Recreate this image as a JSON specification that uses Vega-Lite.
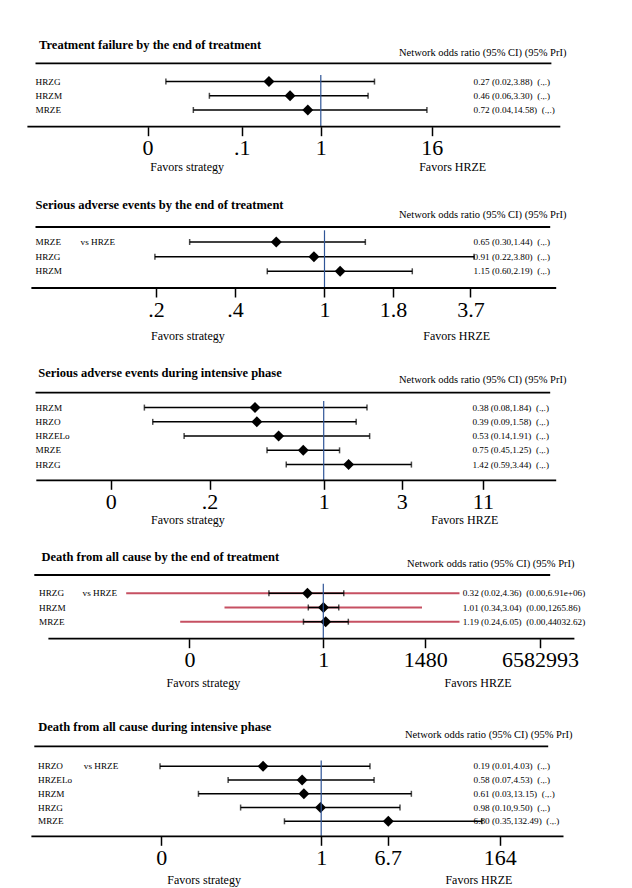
{
"$schema": "https://vega.github.io/schema/vega-lite/v6.json",
"padding": 0,
"bounds": "flush",
"spacing": 60,
"config": {
  "view": {"stroke": null},
  "font": "Liberation Serif",
  "text": {"color": "black"},
  "axis": {"domain": false, "grid": false, "tickColor": "black", "tickWidth": 1.5, "tickSize": 9, "labelFontSize": 22, "labelColor": "black", "labelPadding": 12, "labelBaseline": "middle", "labelFont": "Liberation Serif", "labelOverlap": false, "labelFlush": false}
},
"vconcat": [
{
  "width": 632, "height": 126.7,
  "data": {"values": [
    {"t": "HRZG", "or": 0.27, "lo": 0.02, "hi": 3.88, "row": 1, "txt": "0.27 (0.02,3.88)\u00a0\u00a0(.,.)"},
    {"t": "HRZM", "or": 0.46, "lo": 0.06, "hi": 3.30, "row": 2, "txt": "0.46 (0.06,3.30)\u00a0\u00a0(.,.)"},
    {"t": "MRZE", "or": 0.72, "lo": 0.04, "hi": 14.58, "row": 3, "txt": "0.72 (0.04,14.58)\u00a0\u00a0(.,.)"}
  ]},
  "encoding": {"y": {"field": "row", "type": "quantitative", "scale": {"domain": [-4.746, 4.176], "reverse": true, "nice": false, "zero": false}, "axis": null}},
  "layer": [
    {"mark": {"type": "rule", "color": "black", "strokeWidth": 1.5},
     "encoding": {"x": {"field": "lo", "type": "quantitative", "scale": {"type": "log", "domain": [3.032e-4, 2587.8], "nice": false}, "axis": {"values": [0.012576, 0.136, 1, 16.45], "labelExpr": "datum.value < 0.05 ? '0' : datum.value < 0.5 ? '.1' : datum.value < 2 ? '1' : '16'", "title": null}}, "x2": {"field": "hi"}}},
    {"mark": {"type": "tick", "orient": "vertical", "color": "black", "size": 6, "thickness": 1.5}, "encoding": {"x": {"field": "lo", "type": "quantitative"}}},
    {"mark": {"type": "tick", "orient": "vertical", "color": "black", "size": 6, "thickness": 1.5}, "encoding": {"x": {"field": "hi", "type": "quantitative"}}},
    {"mark": {"type": "point", "shape": "diamond", "filled": true, "color": "black", "size": 120, "opacity": 1}, "encoding": {"x": {"field": "or", "type": "quantitative"}}},
    {"mark": {"type": "text", "align": "left", "baseline": "middle", "fontSize": 9.2}, "encoding": {"x": {"datum": 7.433e-4}, "text": {"field": "t"}}},
    {"mark": {"type": "text", "align": "left", "baseline": "middle", "fontSize": 9.2}, "encoding": {"x": {"datum": 47.40}, "text": {"field": "txt"}}},
    {"transform": [{"filter": "datum.row == 1"}], "mark": {"type": "rule", "color": "#2f5597", "strokeWidth": 1.2}, "encoding": {"x": {"datum": 1}, "y": {"datum": 0.535}, "y2": {"datum": 4.176}}},
    {"transform": [{"filter": "datum.row == 1"}], "mark": {"type": "rule", "color": "black", "strokeWidth": 1.8}, "encoding": {"x": {"datum": 7.433e-4}, "x2": {"datum": 338.0}, "y": {"datum": -0.289}}},
    {"transform": [{"filter": "datum.row == 1"}], "mark": {"type": "rule", "color": "black", "strokeWidth": 1.8}, "encoding": {"x": {"datum": 6.057e-4}, "x2": {"datum": 423.3}, "y": {"datum": 4.176}}},
    {"transform": [{"filter": "datum.row == 1"}], "mark": {"type": "text", "align": "left", "baseline": "middle", "fontSize": 12.5, "fontWeight": "bold", "text": "Treatment failure by the end of treatment"}, "encoding": {"x": {"datum": 8.139e-4}, "y": {"datum": -1.577}}},
    {"transform": [{"filter": "datum.row == 1"}], "mark": {"type": "text", "align": "left", "baseline": "middle", "fontSize": 10.5, "text": "Network odds ratio (95% CI) (95% PrI)"}, "encoding": {"x": {"datum": 7.204}, "y": {"datum": -1.035}}},
    {"transform": [{"filter": "datum.row == 1"}], "mark": {"type": "text", "align": "left", "baseline": "middle", "fontSize": 12, "text": "Favors strategy"}, "encoding": {"x": {"datum": 0.013493}, "y": {"datum": 7.035}}},
    {"transform": [{"filter": "datum.row == 1"}], "mark": {"type": "text", "align": "left", "baseline": "middle", "fontSize": 12, "text": "Favors HRZE"}, "encoding": {"x": {"datum": 11.998}, "y": {"datum": 7.035}}}
  ]
},
{
  "width": 632, "height": 101,
  "data": {"values": [
    {"t": "MRZE", "vs": "vs HRZE", "or": 0.65, "lo": 0.30, "hi": 1.44, "row": 1, "txt": "0.65 (0.30,1.44)\u00a0\u00a0(.,.)"},
    {"t": "HRZG", "vs": "", "or": 0.91, "lo": 0.22, "hi": 3.80, "row": 2, "txt": "0.91 (0.22,3.80)\u00a0\u00a0(.,.)"},
    {"t": "HRZM", "vs": "", "or": 1.15, "lo": 0.60, "hi": 2.19, "row": 3, "txt": "1.15 (0.60,2.19)\u00a0\u00a0(.,.)"}
  ]},
  "encoding": {"y": {"field": "row", "type": "quantitative", "scale": {"domain": [-2.754, 4.140], "reverse": true, "nice": false, "zero": false}, "axis": null}},
  "layer": [
    {"mark": {"type": "rule", "color": "black", "strokeWidth": 1.5},
     "encoding": {"x": {"field": "lo", "type": "quantitative", "scale": {"type": "log", "domain": [0.055174, 15.573], "nice": false}, "axis": {"values": [0.2222, 0.4497, 1, 1.8433, 3.6791], "labelExpr": "datum.value < 0.3 ? '.2' : datum.value < 0.7 ? '.4' : datum.value < 1.4 ? '1' : datum.value < 2.5 ? '1.8' : '3.7'", "title": null}}, "x2": {"field": "hi"}}},
    {"mark": {"type": "tick", "orient": "vertical", "color": "black", "size": 6, "thickness": 1.5}, "encoding": {"x": {"field": "lo", "type": "quantitative"}}},
    {"mark": {"type": "tick", "orient": "vertical", "color": "black", "size": 6, "thickness": 1.5}, "encoding": {"x": {"field": "hi", "type": "quantitative"}}},
    {"mark": {"type": "point", "shape": "diamond", "filled": true, "color": "black", "size": 120, "opacity": 1}, "encoding": {"x": {"field": "or", "type": "quantitative"}}},
    {"mark": {"type": "text", "align": "left", "baseline": "middle", "fontSize": 9.2}, "encoding": {"x": {"datum": 0.075746}, "text": {"field": "t"}}},
    {"mark": {"type": "text", "align": "left", "baseline": "middle", "fontSize": 9.2}, "encoding": {"x": {"datum": 0.11330}, "text": {"field": "vs"}}},
    {"mark": {"type": "text", "align": "left", "baseline": "middle", "fontSize": 9.2}, "encoding": {"x": {"datum": 3.786}, "text": {"field": "txt"}}},
    {"transform": [{"filter": "datum.row == 1"}], "mark": {"type": "rule", "color": "#2f5597", "strokeWidth": 1.2}, "encoding": {"x": {"datum": 1}, "y": {"datum": 0.201}, "y2": {"datum": 4.140}}},
    {"transform": [{"filter": "datum.row == 1"}], "mark": {"type": "rule", "color": "black", "strokeWidth": 1.8}, "encoding": {"x": {"datum": 0.075746}, "x2": {"datum": 7.502}, "y": {"datum": -0.024}}},
    {"transform": [{"filter": "datum.row == 1"}], "mark": {"type": "rule", "color": "black", "strokeWidth": 1.8}, "encoding": {"x": {"datum": 0.07302}, "x2": {"datum": 7.915}, "y": {"datum": 4.140}}},
    {"transform": [{"filter": "datum.row == 1"}], "mark": {"type": "text", "align": "left", "baseline": "middle", "fontSize": 12.5, "fontWeight": "bold", "text": "Serious adverse events by the end of treatment"}, "encoding": {"x": {"datum": 0.075746}, "y": {"datum": -1.505}}},
    {"transform": [{"filter": "datum.row == 1"}], "mark": {"type": "text", "align": "left", "baseline": "middle", "fontSize": 10.5, "text": "Network odds ratio (95% CI) (95% PrI)"}, "encoding": {"x": {"datum": 1.9450}, "y": {"datum": -0.823}}},
    {"transform": [{"filter": "datum.row == 1"}], "mark": {"type": "text", "align": "left", "baseline": "middle", "fontSize": 12, "text": "Favors strategy"}, "encoding": {"x": {"datum": 0.21262}, "y": {"datum": 7.437}}},
    {"transform": [{"filter": "datum.row == 1"}], "mark": {"type": "text", "align": "left", "baseline": "middle", "fontSize": 12, "text": "Favors HRZE"}, "encoding": {"x": {"datum": 2.4141}, "y": {"datum": 7.437}}}
  ]
},
{
  "width": 632, "height": 132.3,
  "data": {"values": [
    {"t": "HRZM", "or": 0.38, "lo": 0.08, "hi": 1.84, "row": 1, "txt": "0.38 (0.08,1.84)\u00a0\u00a0(.,.)"},
    {"t": "HRZO", "or": 0.39, "lo": 0.09, "hi": 1.58, "row": 2, "txt": "0.39 (0.09,1.58)\u00a0\u00a0(.,.)"},
    {"t": "HRZELo", "or": 0.53, "lo": 0.14, "hi": 1.91, "row": 3, "txt": "0.53 (0.14,1.91)\u00a0\u00a0(.,.)"},
    {"t": "MRZE", "or": 0.75, "lo": 0.45, "hi": 1.25, "row": 4, "txt": "0.75 (0.45,1.25)\u00a0\u00a0(.,.)"},
    {"t": "HRZG", "or": 1.42, "lo": 0.59, "hi": 3.44, "row": 5, "txt": "1.42 (0.59,3.44)\u00a0\u00a0(.,.)"}
  ]},
  "encoding": {"y": {"field": "row", "type": "quantitative", "scale": {"domain": [-3.182, 6.102], "reverse": true, "nice": false, "zero": false}, "axis": null}},
  "layer": [
    {"mark": {"type": "rule", "color": "black", "strokeWidth": 1.5},
     "encoding": {"x": {"field": "lo", "type": "quantitative", "scale": {"type": "log", "domain": [0.010470, 76.88], "nice": false}, "axis": {"values": [0.04984, 0.2005, 1, 3.0072, 9.412], "labelExpr": "datum.value < 0.1 ? '0' : datum.value < 0.5 ? '.2' : datum.value < 2 ? '1' : datum.value < 5 ? '3' : '11'", "title": null}}, "x2": {"field": "hi"}}},
    {"mark": {"type": "tick", "orient": "vertical", "color": "black", "size": 6, "thickness": 1.5}, "encoding": {"x": {"field": "lo", "type": "quantitative"}}},
    {"mark": {"type": "tick", "orient": "vertical", "color": "black", "size": 6, "thickness": 1.5}, "encoding": {"x": {"field": "hi", "type": "quantitative"}}},
    {"mark": {"type": "point", "shape": "diamond", "filled": true, "color": "black", "size": 120, "opacity": 1}, "encoding": {"x": {"field": "or", "type": "quantitative"}}},
    {"mark": {"type": "text", "align": "left", "baseline": "middle", "fontSize": 9.2}, "encoding": {"x": {"datum": 0.017263}, "text": {"field": "t"}}},
    {"mark": {"type": "text", "align": "left", "baseline": "middle", "fontSize": 9.2}, "encoding": {"x": {"datum": 8.121}, "text": {"field": "txt"}}},
    {"transform": [{"filter": "datum.row == 1"}], "mark": {"type": "rule", "color": "#2f5597", "strokeWidth": 1.2}, "encoding": {"x": {"datum": 1}, "y": {"datum": 0.537}, "y2": {"datum": 6.102}}},
    {"transform": [{"filter": "datum.row == 1"}], "mark": {"type": "rule", "color": "black", "strokeWidth": 1.8}, "encoding": {"x": {"datum": 0.017263}, "x2": {"datum": 24.29}, "y": {"datum": -0.053}}},
    {"transform": [{"filter": "datum.row == 1"}], "mark": {"type": "rule", "color": "black", "strokeWidth": 1.8}, "encoding": {"x": {"datum": 0.017460}, "x2": {"datum": 26.43}, "y": {"datum": 6.102}}},
    {"transform": [{"filter": "datum.row == 1"}], "mark": {"type": "text", "align": "left", "baseline": "middle", "fontSize": 12.5, "fontWeight": "bold", "text": "Serious adverse events during intensive phase"}, "encoding": {"x": {"datum": 0.017959}, "y": {"datum": -1.428}}},
    {"transform": [{"filter": "datum.row == 1"}], "mark": {"type": "text", "align": "left", "baseline": "middle", "fontSize": 10.5, "text": "Network odds ratio (95% CI) (95% PrI)"}, "encoding": {"x": {"datum": 2.888}, "y": {"datum": -0.916}}},
    {"transform": [{"filter": "datum.row == 1"}], "mark": {"type": "text", "align": "left", "baseline": "middle", "fontSize": 12, "text": "Favors strategy"}, "encoding": {"x": {"datum": 0.087946}, "y": {"datum": 8.860}}},
    {"transform": [{"filter": "datum.row == 1"}], "mark": {"type": "text", "align": "left", "baseline": "middle", "fontSize": 12, "text": "Favors HRZE"}, "encoding": {"x": {"datum": 4.5517}, "y": {"datum": 8.860}}}
  ]
},
{
  "width": 632, "height": 97.7,
  "data": {"values": [
    {"t": "HRZG", "vs": "vs HRZE", "or": 0.32, "lo": 0.02, "hi": 4.36, "plo": 6.945e-7, "phi": 18008, "row": 1, "txt": "0.32 (0.02,4.36)\u00a0\u00a0(0.00,6.91e+06)"},
    {"t": "HRZM", "vs": "", "or": 1.01, "lo": 0.34, "hi": 3.04, "plo": 8.186e-4, "phi": 1213, "row": 2, "txt": "1.01 (0.34,3.04)\u00a0\u00a0(0.00,1265.86)"},
    {"t": "MRZE", "vs": "", "or": 1.19, "lo": 0.24, "hi": 6.05, "plo": 3.380e-5, "phi": 18008, "row": 3, "txt": "1.19 (0.24,6.05)\u00a0\u00a0(0.00,44032.62)"}
  ]},
  "encoding": {"y": {"field": "row", "type": "quantitative", "scale": {"domain": [-2.683, 4.197], "reverse": true, "nice": false, "zero": false}, "axis": null}},
  "layer": [
    {"mark": {"type": "rule", "color": "#c65062", "strokeWidth": 2},
     "encoding": {"x": {"field": "plo", "type": "quantitative", "scale": {"type": "log", "domain": [7.9204e-11, 4.4166e9], "nice": false}, "axis": {"values": [6.553e-5, 1, 1527, 5.939e6], "labelExpr": "datum.value < 0.01 ? '0' : datum.value < 10 ? '1' : datum.value < 100000 ? '1480' : '6582993'", "title": null}}, "x2": {"field": "phi"}}},
    {"mark": {"type": "rule", "color": "black", "strokeWidth": 1.5}, "encoding": {"x": {"field": "lo", "type": "quantitative"}, "x2": {"field": "hi"}}},
    {"mark": {"type": "tick", "orient": "vertical", "color": "black", "size": 6, "thickness": 1.5}, "encoding": {"x": {"field": "lo", "type": "quantitative"}}},
    {"mark": {"type": "tick", "orient": "vertical", "color": "black", "size": 6, "thickness": 1.5}, "encoding": {"x": {"field": "hi", "type": "quantitative"}}},
    {"mark": {"type": "point", "shape": "diamond", "filled": true, "color": "black", "size": 120, "opacity": 1}, "encoding": {"x": {"field": "or", "type": "quantitative"}}},
    {"mark": {"type": "text", "align": "left", "baseline": "middle", "fontSize": 9.2}, "encoding": {"x": {"datum": 1.3100e-9}, "text": {"field": "t"}}},
    {"mark": {"type": "text", "align": "left", "baseline": "middle", "fontSize": 9.2}, "encoding": {"x": {"datum": 3.0167e-8}, "text": {"field": "vs"}}},
    {"mark": {"type": "text", "align": "left", "baseline": "middle", "fontSize": 9.2}, "encoding": {"x": {"datum": 22674}, "text": {"field": "txt"}}},
    {"transform": [{"filter": "datum.row == 1"}], "mark": {"type": "rule", "color": "#2f5597", "strokeWidth": 1.2}, "encoding": {"x": {"datum": 1}, "y": {"datum": 0.324}, "y2": {"datum": 4.197}}},
    {"transform": [{"filter": "datum.row == 1"}], "mark": {"type": "rule", "color": "black", "strokeWidth": 1.8}, "encoding": {"x": {"datum": 9.342e-10}, "x2": {"datum": 1.2283e7}, "y": {"datum": -0.289}}},
    {"transform": [{"filter": "datum.row == 1"}], "mark": {"type": "rule", "color": "black", "strokeWidth": 1.8}, "encoding": {"x": {"datum": 2.5761e-9}, "x2": {"datum": 7.0047e7}, "y": {"datum": 4.197}}},
    {"transform": [{"filter": "datum.row == 1"}], "mark": {"type": "text", "align": "left", "baseline": "middle", "fontSize": 12.5, "fontWeight": "bold", "text": "Death from all cause by the end of treatment"}, "encoding": {"x": {"datum": 1.5681e-9}, "y": {"datum": -1.556}}},
    {"transform": [{"filter": "datum.row == 1"}], "mark": {"type": "text", "align": "left", "baseline": "middle", "fontSize": 10.5, "text": "Network odds ratio (95% CI) (95% PrI)"}, "encoding": {"x": {"datum": 415.2}, "y": {"datum": -1.085}}},
    {"transform": [{"filter": "datum.row == 1"}], "mark": {"type": "text", "align": "left", "baseline": "middle", "fontSize": 12, "text": "Favors strategy"}, "encoding": {"x": {"datum": 1.2615e-5}, "y": {"datum": 7.296}}},
    {"transform": [{"filter": "datum.row == 1"}], "mark": {"type": "text", "align": "left", "baseline": "middle", "fontSize": 12, "text": "Favors HRZE"}, "encoding": {"x": {"datum": 6164.7}, "y": {"datum": 7.296}}}
  ]
},
{
  "width": 632, "height": 137.3,
  "data": {"values": [
    {"t": "HRZO", "vs": "vs HRZE", "or": 0.19, "lo": 0.01, "hi": 4.03, "row": 1, "txt": "0.19 (0.01,4.03)\u00a0\u00a0(.,.)"},
    {"t": "HRZELo", "vs": "", "or": 0.58, "lo": 0.07, "hi": 4.53, "row": 2, "txt": "0.58 (0.07,4.53)\u00a0\u00a0(.,.)"},
    {"t": "HRZM", "vs": "", "or": 0.61, "lo": 0.03, "hi": 13.15, "row": 3, "txt": "0.61 (0.03,13.15)\u00a0\u00a0(.,.)"},
    {"t": "HRZG", "vs": "", "or": 0.98, "lo": 0.10, "hi": 9.50, "row": 4, "txt": "0.98 (0.10,9.50)\u00a0\u00a0(.,.)"},
    {"t": "MRZE", "vs": "", "or": 6.80, "lo": 0.35, "hi": 98.5, "row": 5, "txt": "6.80 (0.35,132.49)\u00a0\u00a0(.,.)"}
  ]},
  "encoding": {"y": {"field": "row", "type": "quantitative", "scale": {"domain": [-3.895, 6.091], "reverse": true, "nice": false, "zero": false}, "axis": null}},
  "layer": [
    {"mark": {"type": "rule", "color": "black", "strokeWidth": 1.5},
     "encoding": {"x": {"field": "lo", "type": "quantitative", "scale": {"type": "log", "domain": [1.0339e-4, 7187], "nice": false}, "axis": {"values": [0.010343, 1, 6.686, 164.5], "labelExpr": "datum.value < 0.1 ? '0' : datum.value < 2 ? '1' : datum.value < 20 ? '6.7' : '164'", "title": null}}, "x2": {"field": "hi"}}},
    {"mark": {"type": "tick", "orient": "vertical", "color": "black", "size": 6, "thickness": 1.5}, "encoding": {"x": {"field": "lo", "type": "quantitative"}}},
    {"mark": {"type": "tick", "orient": "vertical", "color": "black", "size": 6, "thickness": 1.5}, "encoding": {"x": {"field": "hi", "type": "quantitative"}}},
    {"mark": {"type": "point", "shape": "diamond", "filled": true, "color": "black", "size": 120, "opacity": 1}, "encoding": {"x": {"field": "or", "type": "quantitative"}}},
    {"mark": {"type": "text", "align": "left", "baseline": "middle", "fontSize": 9.2}, "encoding": {"x": {"datum": 3.0616e-4}, "text": {"field": "t"}}},
    {"mark": {"type": "text", "align": "left", "baseline": "middle", "fontSize": 9.2}, "encoding": {"x": {"datum": 1.1330e-3}, "text": {"field": "vs"}}},
    {"mark": {"type": "text", "align": "left", "baseline": "middle", "fontSize": 9.2}, "encoding": {"x": {"datum": 77.81}, "text": {"field": "txt"}}},
    {"transform": [{"filter": "datum.row == 1"}], "mark": {"type": "rule", "color": "#2f5597", "strokeWidth": 1.2}, "encoding": {"x": {"datum": 1}, "y": {"datum": 0.585}, "y2": {"datum": 6.091}}},
    {"transform": [{"filter": "datum.row == 1"}], "mark": {"type": "rule", "color": "black", "strokeWidth": 1.8}, "encoding": {"x": {"datum": 2.7548e-4}, "x2": {"datum": 655.7}, "y": {"datum": -0.455}}},
    {"transform": [{"filter": "datum.row == 1"}], "mark": {"type": "rule", "color": "black", "strokeWidth": 1.8}, "encoding": {"x": {"datum": 2.5354e-4}, "x2": {"datum": 1015.3}, "y": {"datum": 6.091}}},
    {"transform": [{"filter": "datum.row == 1"}], "mark": {"type": "text", "align": "left", "baseline": "middle", "fontSize": 12.5, "fontWeight": "bold", "text": "Death from all cause during intensive phase"}, "encoding": {"x": {"datum": 3.0876e-4}, "y": {"datum": -1.836}}},
    {"transform": [{"filter": "datum.row == 1"}], "mark": {"type": "text", "align": "left", "baseline": "middle", "fontSize": 10.5, "text": "Network odds ratio (95% CI) (95% PrI)"}, "encoding": {"x": {"datum": 10.960}, "y": {"datum": -1.255}}},
    {"transform": [{"filter": "datum.row == 1"}], "mark": {"type": "text", "align": "left", "baseline": "middle", "fontSize": 12, "text": "Favors strategy"}, "encoding": {"x": {"datum": 0.012313}, "y": {"datum": 9.27}}},
    {"transform": [{"filter": "datum.row == 1"}], "mark": {"type": "text", "align": "left", "baseline": "middle", "fontSize": 12, "text": "Favors HRZE"}, "encoding": {"x": {"datum": 34.764}, "y": {"datum": 9.27}}}
  ]
}
]
}
